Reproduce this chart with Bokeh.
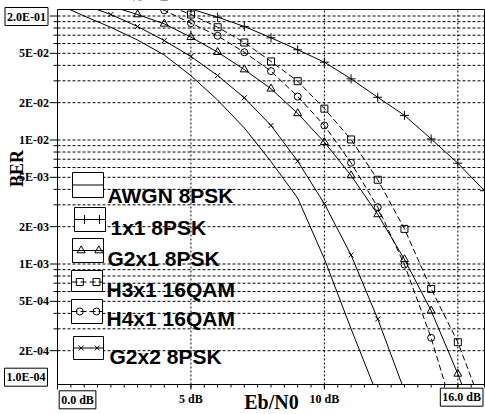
import math
from bokeh.plotting import figure
from bokeh.models import Range1d, Label
from bokeh.core.properties import value
from bokeh.embed import file_html
from bokeh.resources import INLINE

# ---------------- data ----------------
awgn_x = [0, 1, 2, 3, 4, 5, 6, 7, 8, 9, 10, 11, 12]
awgn_y = [0.125, 0.1, 0.081, 0.064, 0.0485, 0.033, 0.021, 0.0125, 0.0067, 0.0034, 0.0011, 3.0e-4, 8.6e-5]

s1x1_x = [4, 5, 6, 7, 8, 9, 10, 11, 12, 13, 14, 15, 16]
s1x1_y = [0.13, 0.114, 0.0978, 0.0823, 0.0667, 0.0534, 0.0424, 0.0311, 0.0221, 0.0158, 0.0102, 0.0065, 0.0039]

g2x1_x = [2, 3, 4, 5, 6, 7, 8, 9, 10, 11, 12, 13, 14, 15, 16]
g2x1_y = [0.12, 0.1028, 0.0865, 0.0675, 0.0511, 0.037, 0.0259, 0.0164, 0.0096, 0.00517, 0.00251, 0.00109, 4.2e-4, 1.3e-4, 3.5e-5]

h3x1_x = [4, 5, 6, 7, 8, 9, 10, 11, 12, 13, 14, 15, 16]
h3x1_y = [0.125, 0.1028, 0.0812, 0.0611, 0.043, 0.0298, 0.0179, 0.0101, 0.00478, 0.00192, 6.3e-4, 2.34e-4, 6.3e-5]

h4x1_x = [3, 4, 5, 6, 7, 8, 9, 10, 11, 12, 13, 14, 15]
h4x1_y = [0.135, 0.111, 0.0875, 0.0692, 0.051, 0.0359, 0.0224, 0.0131, 0.00655, 0.00287, 9.9e-4, 2.54e-4, 4.9e-5]

g2x2_x = [1, 2, 3, 4, 5, 6, 7, 8, 9, 10, 11, 12, 13]
g2x2_y = [0.123, 0.1028, 0.0823, 0.0634, 0.0471, 0.0331, 0.0219, 0.0131, 0.00675, 0.00306, 0.00118, 3.6e-4, 9.5e-5]

series_names = ["AWGN 8PSK", "1x1 8PSK", "G2x1 8PSK", "H3x1 16QAM", "H4x1 16QAM", "G2x2 8PSK"]

ytick_vals = [0.05, 0.02, 0.01, 0.005, 0.002, 0.001, 5e-4, 2e-4]
ytick_labels = ["5E-02", "2E-02", "1E-02", "5E-03", "2E-03", "1E-03", "5E-04", "2E-04"]
xtick_vals = [5, 10]
xtick_labels = ["5 dB", "10 dB"]
x_major = [0, 5, 10, 15]
x_minor = [i * 0.5 for i in range(33)]
x_grid = [5, 10, 15]
grid_vals = [m * 10 ** e for e in (-4, -3, -2) for m in range(1, 10)] + [0.1]
end_labels = {"ytop": "2.0E-01", "ybot": "1.0E-04", "xleft": "0.0 dB", "xright": "16.0 dB"}
x_title, y_title = "Eb/N0", "BER"

# ---------------- layout (pixel geometry of the page) ----------------
W, H = 485, 414
PX0, PXDB = 57.0, 427.0 / 16.0      # 0 dB position and px per dB
PY01, PYDEC = 15.5, 124.0           # 0.1 position and px per decade
AREA_L, AREA_R, AREA_T, AREA_B = 57.0, 484.0, 9.0, 384.0


def dx(px):
    return (px - PX0) / PXDB


def dy(py):
    return 10 ** (-1 - (py - PY01) / PYDEC)


XA0, XA1 = dx(AREA_L), dx(AREA_R)
YA0, YA1 = dy(AREA_B), dy(AREA_T)

p = figure(width=W, height=H, x_range=Range1d(dx(0), dx(W)), y_range=Range1d(dy(H), dy(0)),
           y_axis_type="log", output_backend="svg", toolbar_location=None,
           x_axis_location=None, y_axis_location=None,
           min_border_left=0, min_border_right=0, min_border_top=0, min_border_bottom=0)
p.background_fill_color = "white"
p.border_fill_color = "white"
p.outline_line_color = None
p.grid.visible = False

# ---------------- grid ----------------
gy = [g for g in grid_vals if YA0 < g < YA1]
p.segment(x0=[XA0] * len(gy), x1=[XA1] * len(gy), y0=gy, y1=gy,
          line_color="black", line_width=1, line_dash="3 2")
p.segment(x0=x_grid, x1=x_grid, y0=[YA0] * len(x_grid), y1=[YA1] * len(x_grid),
          line_color="black", line_width=1, line_dash="2 2")

# ---------------- curves ----------------
curves = [
    (awgn_x, awgn_y, "solid", None, 0),
    (s1x1_x, s1x1_y, "solid", "cross", 9),
    (g2x1_x, g2x1_y, "solid", "triangle", 8),
    (h3x1_x, h3x1_y, "6 3", "square", 7),
    (h4x1_x, h4x1_y, "6 3", "circle", 7),
    (g2x2_x, g2x2_y, "solid", "x", 7),
]
for xs, ys, dash, mk, sz in curves:
    p.line(xs, ys, line_color="black", line_width=1, line_dash=dash)
    if mk:
        p.scatter(xs, ys, marker=mk, size=sz, line_color="black", fill_color=None, line_width=1)

# white masks outside the plotting area (clip the curves)
X_L, X_R, Y_B, Y_T = dx(0), dx(W), dy(H), dy(0)
p.quad(left=[X_L, X_L, X_L, XA1], right=[X_R, X_R, XA0, X_R],
       bottom=[YA1, Y_B, Y_B, Y_B], top=[Y_T, YA0, Y_T, Y_T],
       fill_color="white", line_color=None)

# frame and ticks
p.quad(left=[XA0], right=[XA1], bottom=[YA0], top=[YA1], fill_color=None,
       line_color="black", line_width=1)
ymaj = [0.1] + ytick_vals
p.segment(x0=[dx(49.3)] * len(ymaj), x1=[XA0] * len(ymaj), y0=ymaj, y1=ymaj,
          line_color="black", line_width=1)
ymin = [g for g in gy if g not in ymaj]
p.segment(x0=[dx(53)] * len(ymin), x1=[XA0] * len(ymin), y0=ymin, y1=ymin,
          line_color="black", line_width=1)
p.segment(x0=x_major, x1=x_major, y0=[YA0] * len(x_major), y1=[dy(AREA_B + 5)] * len(x_major),
          line_color="black", line_width=1)
p.segment(x0=x_minor, x1=x_minor, y0=[YA0] * len(x_minor), y1=[dy(AREA_B + 3)] * len(x_minor),
          line_color="black", line_width=1)

# ---------------- custom legend ----------------
leg_boxes = [(72, 103, 172, 197), (74, 105, 207, 231), (72, 103, 238, 262),
             (71, 102, 270, 291), (71, 102, 299, 323), (73, 103, 336, 359)]
leg_line_y = [184.5, 219, 250, 281.5, 311, 347.5]
leg_mk_x = [None, (84, 99), (80.7, 98.3), (79.3, 96), (79.3, 96), (80.7, 96.7)]
leg_text = [(107, 195), (110, 227.3), (107, 258), (106, 289.3), (106, 318.3), (109, 356)]

for i, name in enumerate(series_names):
    l, r, t, b = leg_boxes[i]
    p.quad(left=dx(l), right=dx(r), top=dy(t), bottom=dy(b), fill_color="white",
           line_color="black", line_width=1)
    xs, ys, dash, mk, sz = curves[i]
    p.line([dx(l), dx(r)], [dy(leg_line_y[i])] * 2, line_color="black", line_width=1, line_dash=dash)
    if mk:
        mx = leg_mk_x[i]
        p.scatter([dx(mx[0]), dx(mx[1])], [dy(leg_line_y[i])] * 2, marker=mk, size=sz,
                  line_color="black", fill_color=None, line_width=1)
    tx, ty = leg_text[i]
    p.text(x=[dx(tx)], y=[dy(ty)], text=[name], text_font=value("Liberation Sans"),
           text_font_style="bold", text_font_size="21px", text_baseline="alphabetic",
           text_align="left", text_color="black")

# ---------------- tick labels / axis titles ----------------
serif = "Liberation Serif"
for v, s in zip(ytick_vals, ytick_labels):
    p.add_layout(Label(x=dx(48.5), y=v, text=s, text_align="right", text_baseline="middle",
                       text_font=serif, text_font_style="bold", text_font_size="12px",
                       text_color="black"))
for v, s in zip(xtick_vals, xtick_labels):
    p.add_layout(Label(x=v, y=dy(398), text=s, text_align="center", text_baseline="middle",
                       text_font=serif, text_font_style="bold", text_font_size="12px",
                       text_color="black"))

box_kw = dict(text_font=serif, text_font_style="bold", text_font_size="12px", text_color="black",
              border_line_color="black", border_line_width=1, background_fill_color="white",
              padding=2, text_baseline="middle")
p.add_layout(Label(x=dx(47.5), y=dy(16), text=end_labels["ytop"], text_align="right", **box_kw))
p.add_layout(Label(x=dx(47), y=dy(376.7), text=end_labels["ybot"], text_align="right", **box_kw))
p.add_layout(Label(x=dx(58.7), y=dy(399.3), text=end_labels["xleft"], text_align="left", **box_kw))
p.add_layout(Label(x=dx(482.5), y=dy(396.7), text=end_labels["xright"], text_align="right", **box_kw))

p.add_layout(Label(x=dx(271), y=dy(401), text=x_title, text_align="center", text_baseline="middle",
                   text_font=serif, text_font_style="bold", text_font_size="20px", text_color="black"))
p.add_layout(Label(x=dx(16), y=dy(168), text=y_title, angle=math.pi / 2, text_align="center",
                   text_baseline="middle", text_font=serif, text_font_style="bold",
                   text_font_size="18px", text_color="black"))

open("out.html", "w").write(file_html(p, INLINE))
